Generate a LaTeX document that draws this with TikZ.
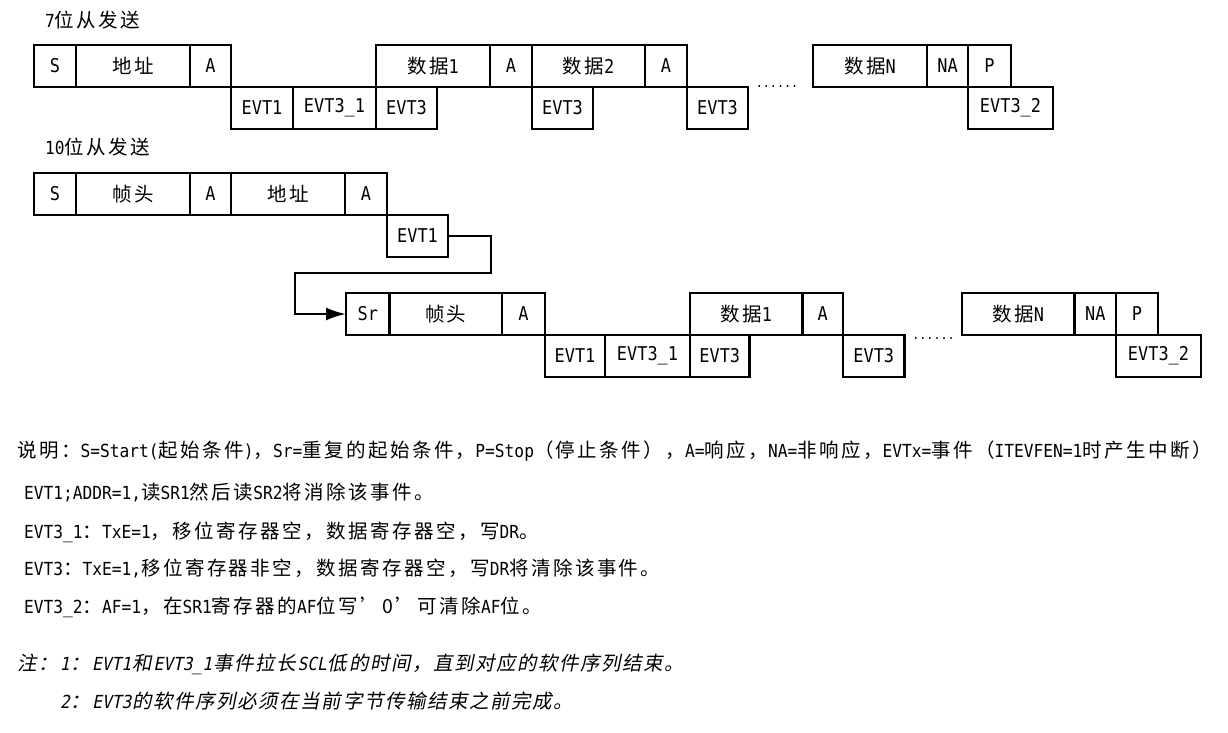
\documentclass[tikz,border=0pt]{standalone}
\usepackage{fontspec}
\setmainfont{DejaVu Sans Mono}[FakeStretch=0.9]
\newfontfamily\cellf{DejaVu Sans Mono}[FakeStretch=0.89]
\newfontfamily\zhf{Noto Sans CJK SC}[LetterSpace=12.5]
\newfontfamily\zhif{Noto Sans CJK SC}[LetterSpace=8,FakeSlant=0.2]
\newfontfamily\ltif{DejaVu Sans Mono}[FakeStretch=0.9,FakeSlant=0.2]
\usetikzlibrary{arrows.meta}
\newcommand\zh[1]{{\zhf\fontsize{19.5}{24}\selectfont #1}}
\newcommand\zhi[1]{{\zhif\fontsize{19.5}{24}\selectfont #1}\kern2pt}
\begin{document}
\begin{tikzpicture}[x=1pt,y=-1pt,
  cell/.style={draw,line width=2.3pt,anchor=north west,inner sep=0pt,outer sep=0pt,minimum height=42pt,font=\cellf\fontsize{19}{22}\selectfont},
  lbl/.style={anchor=base west,inner sep=0pt,font=\fontsize{18}{21}\selectfont},
  ilbl/.style={anchor=base west,inner sep=0pt,font=\ltif\fontsize{18}{21}\selectfont},
  head/.style={anchor=base west,inner sep=0pt,font=\fontsize{18}{21}\selectfont},
  dotrow/.style={anchor=base,inner sep=0pt,font=\fontsize{13}{15}\selectfont},
  conn/.style={line width=2.3pt,line join=miter,-{Latex[length=20pt,width=13pt]}}]
\useasboundingbox (0,0) rectangle (1228,733);

% ---- 7-bit
\node[head] (h1) at (45,27.5) {7\zh{位从发送}};
\node[cell,minimum width=42pt]  (a1) at (34,45)  {S};
\node[cell,minimum width=114pt] (a2) at (76,45)  {\zh{地址}};
\node[cell,minimum width=41pt]  (a3) at (190,45) {A};
\node[cell,minimum width=114pt] (a4) at (376,45) {\zh{数据}1};
\node[cell,minimum width=42pt]  (a5) at (490,45) {A};
\node[cell,minimum width=113pt] (a6) at (532,45) {\zh{数据}2};
\node[cell,minimum width=42pt]  (a7) at (645,45) {A};
\node[cell,minimum width=114pt] (a8) at (813,45) {\zh{数据}N};
\node[cell,minimum width=41pt]  (a9) at (927,45) {NA};
\node[cell,minimum width=43pt]  (a10) at (968,45) {P};
\node[cell,minimum width=62pt]  (ae1) at (231,87) {EVT1};
\node[cell,minimum width=83pt]  (ae2) at (293,87) {EVT3\_1};
\node[cell,minimum width=61pt]  (ae3) at (376,87) {EVT3};
\node[cell,minimum width=61pt]  (ae4) at (532,87) {EVT3};
\node[cell,minimum width=61pt]  (ae5) at (687,87) {EVT3};
\node[cell,minimum width=85pt]  (ae6) at (968,87) {EVT3\_2};
\node[dotrow] (ad) at (777,87.5) {......};

% ---- 10-bit
\node[head] (h2) at (45,154.5) {10\zh{位从发送}};
\node[cell,minimum width=42pt]  (b1) at (34,173)  {S};
\node[cell,minimum width=114pt] (b2) at (76,173)  {\zh{帧头}};
\node[cell,minimum width=41pt]  (b3) at (190,173) {A};
\node[cell,minimum width=114pt] (b4) at (231,173) {\zh{地址}};
\node[cell,minimum width=42pt]  (b5) at (345,173) {A};
\node[cell,minimum width=61pt]  (be1) at (387,215) {EVT1};

\node[cell,minimum width=43.5pt]  (c1) at (346,293)   {Sr};
\node[cell,minimum width=112.5pt] (c2) at (389.5,293) {\zh{帧头}};
\node[cell,minimum width=43pt]    (c3) at (502,293)   {A};
\node[cell,minimum width=112.5pt] (c4) at (690,293)   {\zh{数据}1};
\node[cell,minimum width=40.5pt]  (c5) at (802.5,293) {A};
\node[cell,minimum width=112.5pt] (c6) at (962,293)   {\zh{数据}N};
\node[cell,minimum width=41.5pt]  (c7) at (1074.5,293) {NA};
\node[cell,minimum width=42pt]    (c8) at (1116,293)  {P};
\node[cell,minimum width=60pt]    (ce1) at (545,335)  {EVT1};
\node[cell,minimum width=85pt]    (ce2) at (605,335)  {EVT3\_1};
\node[cell,minimum width=59.5pt]  (ce3) at (690,335)  {EVT3};
\node[cell,minimum width=61.5pt]  (ce4) at (843,335)  {EVT3};
\node[cell,minimum width=85pt]    (ce5) at (1116,335) {EVT3\_2};
\node[dotrow] (cd) at (933.5,339.5) {......};

\coordinate (k1) at (491,273);
\coordinate (k2) at (295,314);
\draw[conn] (be1.east) -| (k1) -| (k2) -- (c1.west);

% ---- notes
\node[lbl] (t1) at (17,457) {\zh{说明：}S=Start(\zh{起始条件})\zh{，}Sr=\zh{重复的起始条件，}P=Stop\zh{（停止条件），}A=\zh{响应，}NA=\zh{非响应，}EVTx=\zh{事件（}ITEVFEN=1\zh{时产生中断）}};
\node[lbl] (t2) at (24,499) {EVT1;ADDR=1,\zh{读}SR1\zh{然后读}SR2\zh{将消除该事件。}};
\node[lbl] (t3) at (24,538) {EVT3\_1\zh{：}TxE=1\zh{，移位寄存器空，数据寄存器空，写}DR\zh{。}};
\node[lbl] (t4) at (24,575) {EVT3\zh{：}TxE=1,\zh{移位寄存器非空，数据寄存器空，写}DR\zh{将清除该事件。}};
\node[lbl] (t5) at (24,613) {EVT3\_2\zh{：}AF=1\zh{，在}SR1\zh{寄存器的}AF\zh{位写’0’可清除}AF\zh{位。}};
\node[ilbl] (t6) at (17,670) {\zhi{注：}1\kern1pt\zhi{：}EVT1\kern1pt\zhi{和}EVT3\_1\kern1pt\zhi{事件拉长}SCL\kern1pt\zhi{低的时间，直到对应的软件序列结束。}};
\node[ilbl] (t7) at (60,708) {2\kern1pt\zhi{：}EVT3\kern1pt\zhi{的软件序列必须在当前字节传输结束之前完成。}};
\end{tikzpicture}
\end{document}
